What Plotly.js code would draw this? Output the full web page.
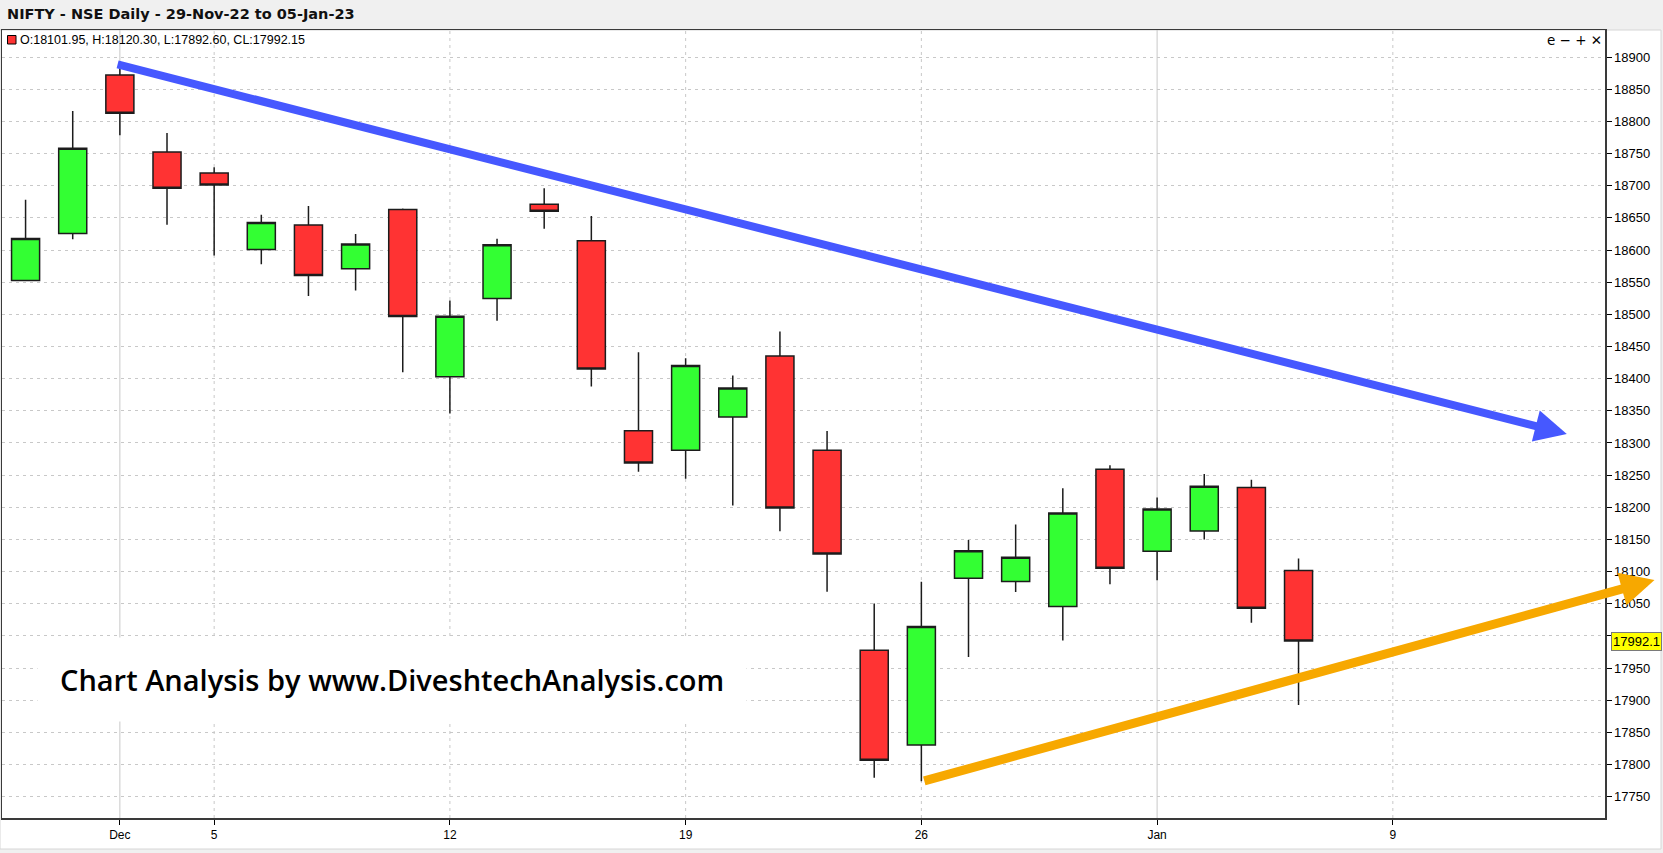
<!DOCTYPE html>
<html>
<head>
<meta charset="utf-8">
<script src="https://cdn.plot.ly/plotly-3.0.1.min.js"></script>
<style>
html,body{margin:0;padding:0;background:#F0F0F0;}
#chart{width:1663px;height:853px;}
</style>
</head>
<body>
<div id="chart"></div>
<script>
// ---- Data (NIFTY daily OHLC, 29-Nov-22 to 05-Jan-23) ----
const dates = ['2022-11-29','2022-11-30','2022-12-01','2022-12-02','2022-12-05','2022-12-06','2022-12-07','2022-12-08','2022-12-09','2022-12-12','2022-12-13','2022-12-14','2022-12-15','2022-12-16','2022-12-19','2022-12-20','2022-12-21','2022-12-22','2022-12-23','2022-12-26','2022-12-27','2022-12-28','2022-12-29','2022-12-30','2023-01-02','2023-01-03','2023-01-04','2023-01-05'];
const open  = [18552.45,18625.70,18871.95,18752.40,18719.55,18600.65,18638.85,18570.85,18662.90,18402.90,18524.45,18671.25,18614.40,18319.10,18288.80,18340.30,18435.05,18288.80,17977.65,17830.40,18089.80,18084.75,18045.70,18259.10,18131.70,18163.20,18230.65,18101.95];
const high  = [18678.10,18816.05,18887.60,18781.95,18728.60,18654.90,18668.30,18625.00,18664.45,18521.35,18617.35,18696.10,18652.90,18440.95,18431.65,18404.90,18473.35,18318.75,18050.45,18084.10,18149.25,18173.10,18229.70,18265.25,18215.15,18251.95,18243.00,18120.30];
const low   = [18552.00,18616.55,18778.20,18639.20,18591.35,18577.90,18528.40,18536.95,18410.10,18345.70,18490.20,18632.90,18387.70,18255.15,18244.55,18202.65,18162.75,18068.60,17779.50,17774.25,17967.45,18068.35,17992.80,18080.30,18086.50,18149.80,18020.60,17892.60];
const close = [18618.05,18758.35,18812.50,18696.10,18701.05,18642.75,18560.50,18609.35,18496.60,18497.15,18608.00,18660.30,18414.90,18269.00,18420.45,18385.30,18199.10,18127.35,17806.80,18014.60,18132.30,18122.50,18191.00,18105.30,18197.45,18232.55,18042.95,17992.15];

// x-axis tick labels (dates they mark)
const tickDates  = ['2022-12-01','2022-12-05','2022-12-12','2022-12-19','2022-12-26','2023-01-02','2023-01-09'];
const tickLabels = ['Dec','5','12','19','26','Jan','9'];
const monthStart = [true,false,false,false,false,true,false];

// y-axis price levels shown
const priceTicks = [17750,17800,17850,17900,17950,18000,18050,18100,18150,18200,18250,18300,18350,18400,18450,18500,18550,18600,18650,18700,18750,18800,18850,18900];

// Trend lines drawn on the chart: [bar index, price]
const blueTrendStart   = [1.92, 18889];
const blueTrendEnd     = [32.69, 18314];
const orangeTrendStart = [19.03, 17774];
const orangeTrendEnd   = [34.55, 18087];

// ---- helpers ----
function tradingIndex(ds){
  // number of weekdays from first bar (no exchange holidays in this span)
  const d0 = new Date(dates[0]+'T00:00:00Z');
  const d1 = new Date(ds+'T00:00:00Z');
  let n = 0;
  for(let d = new Date(d0); d < d1; d.setUTCDate(d.getUTCDate()+1)){
    const w = d.getUTCDay();
    if(w !== 0 && w !== 6) n++;
  }
  return n;
}
const xIdx = dates.map(tradingIndex);
const tickVals = tickDates.map(tradingIndex);
const last = close.length - 1;
// the last-price marker hides the level label right next to it
const priceTickText = priceTicks.map(v => Math.abs(v - close[last]) < 16 ? '' : String(v));

const FONT = 'Liberation Sans, Arial, sans-serif';

const trace = {
  type:'candlestick',
  x: xIdx, open: open, high: high, low: low, close: close,
  increasing:{line:{color:'#1c1c1c', width:1.5}, fillcolor:'#33FF33'},
  decreasing:{line:{color:'#1c1c1c', width:1.5}, fillcolor:'#FF3333'},
  whiskerwidth:0,
  hoverinfo:'none',
  showlegend:false
};

// paper helpers (plot area: x 2..1605, y 30..818)
const PL=2, PR=1605, PT=30, PB=818;
const px = X => (X-PL)/(PR-PL);
const py = Y => (PB-Y)/(PB-PT);

const shapes = [
  // white panel below title bar
  {type:'rect', xref:'paper', yref:'paper', x0:px(0), x1:px(1661), y0:py(849), y1:py(PT),
   fillcolor:'#FFFFFF', line:{color:'#D6D6D6', width:1}, layer:'below'}
];
tickVals.forEach((v,i)=>{
  shapes.push({type:'line', xref:'x', yref:'paper', x0:v, x1:v, y0:0, y1:1,
    line: monthStart[i] ? {color:'#C8C8C8', width:1} : {color:'#C8C8C8', width:1, dash:'3px,4px'},
    layer:'below'});
});
// small colour box in the info line
shapes.push({type:'rect', xref:'paper', yref:'paper', x0:px(7.5), x1:px(16), y0:py(44), y1:py(35.5),
  fillcolor: close[last] < open[last] ? '#FF3333' : '#33FF33', line:{color:'#000', width:1}});

const infoText = 'O:' + open[last].toFixed(2) + ', H:' + high[last].toFixed(2) +
                 ', L:' + low[last].toFixed(2) + ', CL:' + close[last].toFixed(2);

const annotations = [
  {xref:'paper', yref:'paper', x:0, y:1, xanchor:'left', yanchor:'middle', xshift:16, yshift:-10,
   text: infoText, showarrow:false, font:{family:FONT, size:12.5, color:'#000'}},
  {xref:'paper', yref:'paper', x:1, y:1, xanchor:'right', yanchor:'top', xshift:-1, yshift:0,
   text:'e \u2212 + \u2715', showarrow:false, font:{family:'DejaVu Sans, sans-serif', size:13.5, color:'#000'}},
  {xref:'paper', yref:'paper', x:px(391.7), y:py(679), xanchor:'center', yanchor:'middle',
   text:'Chart Analysis by www.DiveshtechAnalysis.com', showarrow:false,
   font:{family:'Open Sans, sans-serif', size:29, color:'#000', weight:600},
   bgcolor:'#FFFFFF', borderpad:22},
  {xref:'paper', yref:'y', x:1, y:close[last], xanchor:'left', yanchor:'middle', xshift:6,
   text:(Math.floor(close[last]*10)/10).toFixed(1), showarrow:false,
   font:{family:FONT, size:13, color:'#000'}, bgcolor:'#FFFF00', bordercolor:'#7A7A7A', borderwidth:1, borderpad:1},
  {xref:'x', yref:'y', axref:'x', ayref:'y', x:blueTrendEnd[0], y:blueTrendEnd[1], ax:blueTrendStart[0], ay:blueTrendStart[1],
   text:'', showarrow:true, arrowhead:2, arrowsize:0.8, arrowwidth:8, arrowcolor:'#4658FF', standoff:0, startstandoff:0},
  {xref:'x', yref:'y', axref:'x', ayref:'y', x:orangeTrendEnd[0], y:orangeTrendEnd[1], ax:orangeTrendStart[0], ay:orangeTrendStart[1],
   text:'', showarrow:true, arrowhead:2, arrowsize:0.75, arrowwidth:9, arrowcolor:'#F7A800', standoff:0, startstandoff:0}
];

const layout = {
  width:1663, height:853,
  margin:{l:PL, r:1663-PR, t:PT, b:853-PB, pad:0},
  paper_bgcolor:'#F0F0F0', plot_bgcolor:'#FFFFFF',
  showlegend:false,
  boxgap:0.15,
  dragmode:false,
  title:{text:'<b>NIFTY - NSE Daily - 29-Nov-22 to 05-Jan-23</b>', xref:'container', yref:'container',
         x:7/1663, xanchor:'left', y:1-14/853, yanchor:'middle',
         font:{family:'DejaVu Sans, sans-serif', size:14.5, color:'#111'}},
  xaxis:{type:'linear', range:[-0.5,33.5], tickmode:'array', tickvals:tickVals, ticktext:tickLabels,
         showgrid:false, zeroline:false, showline:true, mirror:true, linecolor:'#3A3A3A', linewidth:1.5,
         ticks:'outside', ticklen:5, tickcolor:'#000', tickwidth:1,
         tickfont:{family:FONT, size:12, color:'#000'}, rangeslider:{visible:false}, fixedrange:true},
  yaxis:{side:'right', range:[17717,18942], tickmode:'array', tickvals:priceTicks, ticktext:priceTickText,
         showgrid:true, gridcolor:'#C8C8C8', griddash:'3px,4px',
         zeroline:false, showline:true, mirror:true, linecolor:'#3A3A3A', linewidth:1.5,
         ticks:'outside', ticklen:5, tickcolor:'#000', tickwidth:1,
         tickfont:{family:FONT, size:13, color:'#000'}, fixedrange:true},
  shapes: shapes,
  annotations: annotations
};

Plotly.newPlot('chart', [trace], layout, {staticPlot:true, displayModeBar:false});
</script>
</body>
</html>
